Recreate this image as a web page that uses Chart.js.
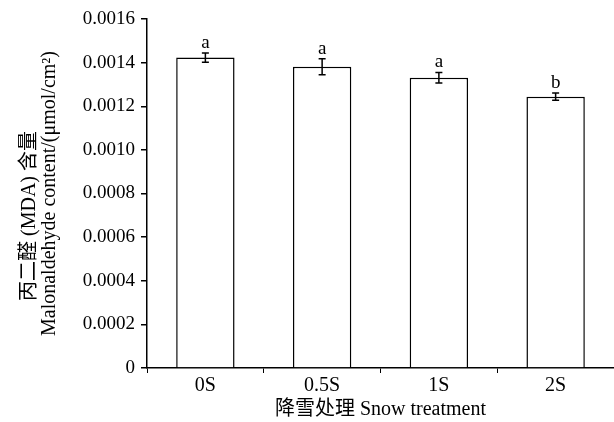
<!DOCTYPE html>
<html>
<head>
<meta charset="utf-8">
<script src="https://cdn.jsdelivr.net/npm/chart.js@4.4.1/dist/chart.umd.min.js"></script>
<style>
  html, body { margin: 0; padding: 0; background: #fff; }
  #wrap { width: 614px; height: 422px; }
</style>
</head>
<body>
<div id="wrap"><canvas id="chart" width="614" height="422"></canvas></div>
<script>
// data
const categories = ["0S", "0.5S", "1S", "2S"];
const mdaValues = [0.001423, 0.001381, 0.001331, 0.001244];
const mdaErrors = [0.000021, 0.000037, 0.000024, 0.000017];
const sigLetters = ["a", "a", "a", "b"];
const yTicks = [0, 0.0002, 0.0004, 0.0006, 0.0008, 0.0010, 0.0012, 0.0014, 0.0016];

const SERIF = "'Liberation Serif', 'Times New Roman', 'Noto Sans CJK SC', serif";

// error bars + significance letters
const errorBarPlugin = {
  id: "errorBars",
  afterDatasetsDraw(chart) {
    const ctx = chart.ctx;
    const y = chart.scales.y;
    const meta = chart.getDatasetMeta(0);
    ctx.save();
    ctx.strokeStyle = "#000";
    ctx.lineWidth = 1.5;
    ctx.fillStyle = "#000";
    ctx.font = "19px " + SERIF;
    ctx.textAlign = "center";
    ctx.textBaseline = "alphabetic";
    meta.data.forEach((bar, i) => {
      const x = bar.x;
      const top = y.getPixelForValue(mdaValues[i] + mdaErrors[i]);
      const bot = y.getPixelForValue(mdaValues[i] - mdaErrors[i]);
      ctx.beginPath();
      ctx.moveTo(x, top); ctx.lineTo(x, bot);
      ctx.moveTo(x - 3.5, top); ctx.lineTo(x + 3.5, top);
      ctx.moveTo(x - 3.5, bot); ctx.lineTo(x + 3.5, bot);
      ctx.stroke();
      ctx.fillText(sigLetters[i], x, top - 5);
    });
    ctx.restore();
  }
};

new Chart(document.getElementById("chart"), {
  type: "bar",
  data: {
    labels: categories,
    datasets: [{
      data: mdaValues,
      backgroundColor: "#fff",
      borderColor: "#000",
      borderWidth: 1.5,
      barPercentage: 0.5,
      categoryPercentage: 1.0
    }]
  },
  options: {
    responsive: false,
    animation: false,
    layout: { padding: { top: 19, right: 0, left: 0, bottom: 0 } },
    plugins: { legend: { display: false }, tooltip: { enabled: false } },
    scales: {
      x: {
        grid: { drawOnChartArea: false, drawTicks: true, tickLength: 5, color: "#000", lineWidth: 1, offset: true },
        border: { color: "#000", width: 1.5 },
        ticks: { color: "#000", font: { family: SERIF, size: 20 }, padding: 1 },
        title: {
          display: true,
          text: "降雪处理 Snow treatment",
          color: "#000",
          font: { family: SERIF, size: 20 },
          padding: { top: 0, bottom: 0 }
        },
        afterFit(scale) { scale.height = 54; }
      },
      y: {
        min: 0,
        max: 0.0016,
        afterBuildTicks(scale) { scale.ticks = yTicks.map(v => ({ value: v })); },
        grid: { drawOnChartArea: false, drawTicks: true, tickLength: 6, color: "#000", lineWidth: 1.5 },
        border: { color: "#000", width: 1.5 },
        ticks: {
          color: "#000",
          font: { family: SERIF, size: 19 },
          padding: 6,
          callback: v => (v === 0 ? "0" : v.toFixed(4))
        },
        title: {
          display: true,
          text: ["丙二醛 (MDA) 含量" + "\u00a0".repeat(9), "Malonaldehyde content/(μmol/cm²)"],
          color: "#000",
          font: { family: SERIF, size: 20, lineHeight: 1.0 },
          padding: { top: 20, bottom: 0 }
        },
        afterFit(scale) { scale.width = 147; }
      }
    }
  },
  plugins: [errorBarPlugin]
});
</script>
</body>
</html>
